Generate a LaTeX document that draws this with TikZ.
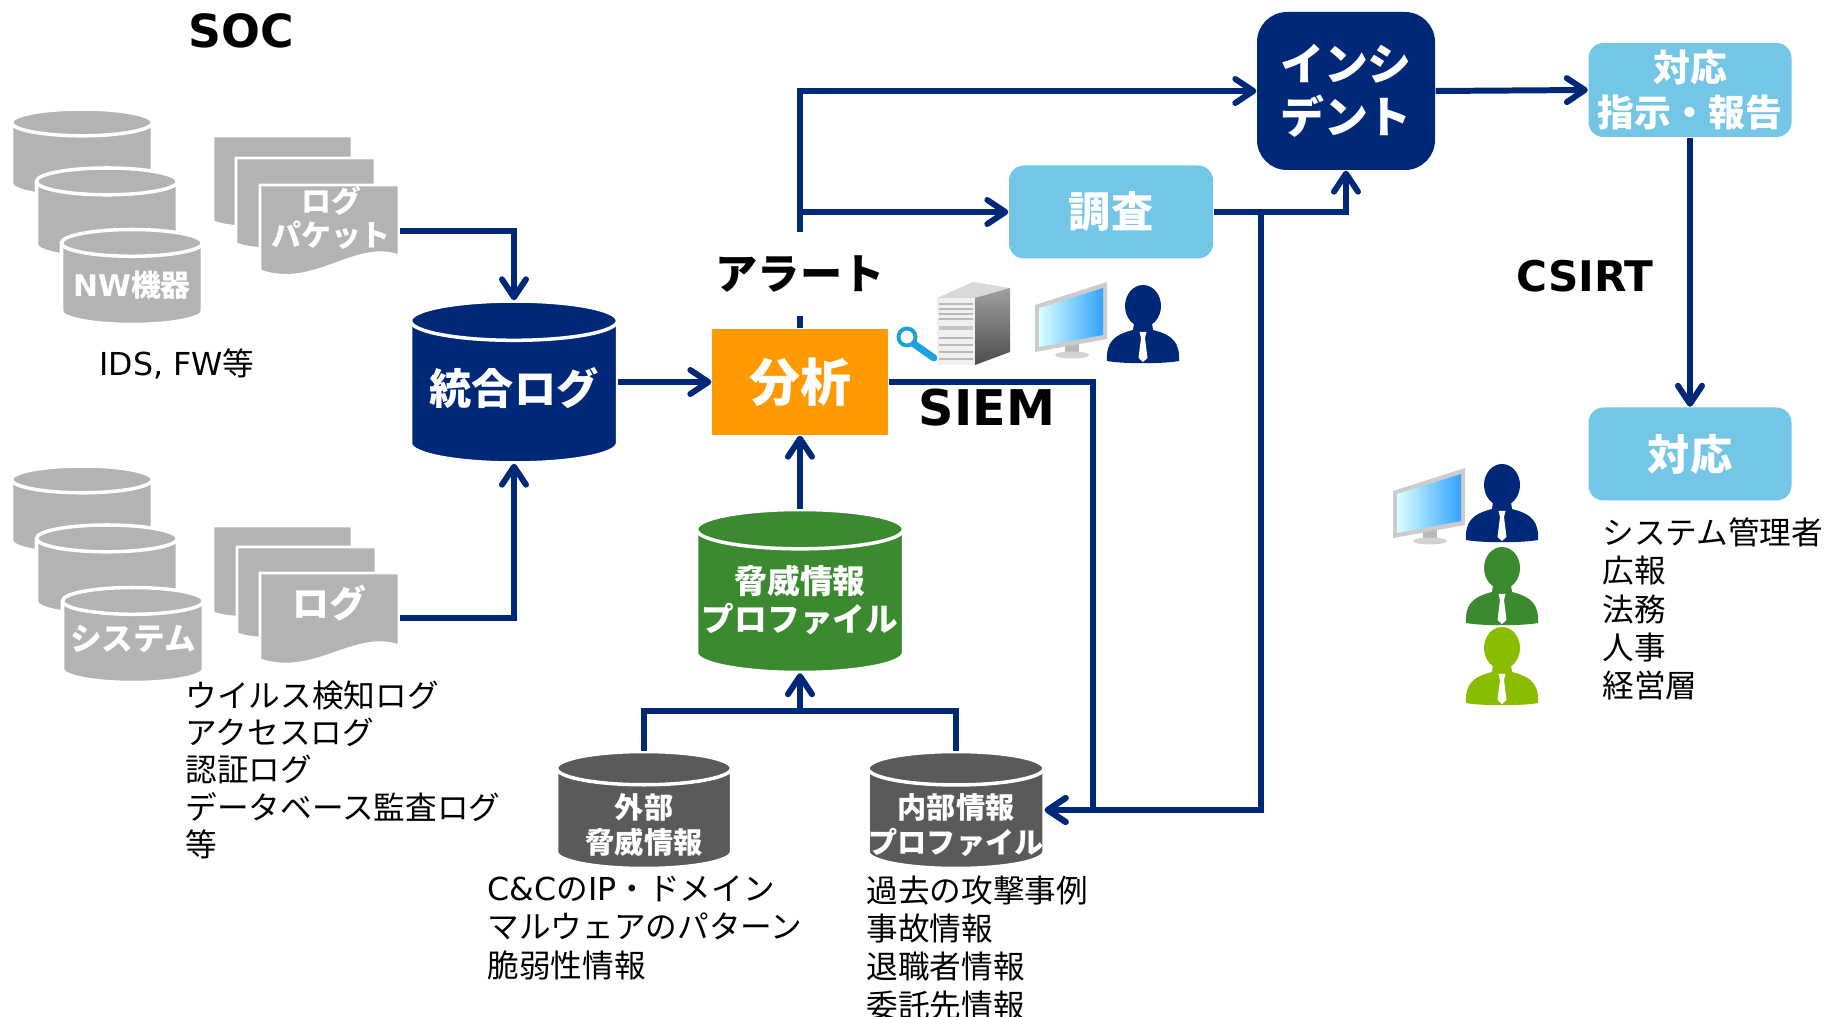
\documentclass[tikz,border=0pt]{standalone}
\usepackage{fontspec}
\setmainfont{Noto Sans CJK JP}
\newfontfamily\verdanalike{DejaVu Sans}
\usetikzlibrary{arrows.meta,positioning}

\definecolor{socnavy}{RGB}{0,40,120}
\definecolor{socorange}{RGB}{255,153,0}
\definecolor{socsky}{RGB}{116,198,230}
\definecolor{socgreen}{RGB}{59,138,48}
\definecolor{socleaf}{RGB}{138,189,0}
\definecolor{socdark}{RGB}{90,90,90}
\definecolor{socgray}{RGB}{179,179,179}
\definecolor{socblue}{RGB}{27,161,226}

% drum: name, x, y, width, height, colour
\newcommand{\drum}[6]{%
  \filldraw[fill=#6, draw=white, line width=1pt]
    (#2-#4/2, #3+#5/2-0.095*#4) -- (#2-#4/2, #3-#5/2+0.095*#4)
    arc[start angle=180, end angle=360, x radius=#4/2, y radius=0.095*#4]
    -- (#2+#4/2, #3+#5/2-0.095*#4)
    arc[start angle=0, end angle=180, x radius=#4/2, y radius=0.095*#4] -- cycle;
  \draw[white, line width=1pt] (#2-#4/2, #3+#5/2-0.095*#4)
    arc[start angle=180, end angle=360, x radius=#4/2, y radius=0.095*#4];
  \node[inner sep=0pt, minimum width=#4cm, minimum height=#5cm] (#1) at (#2,#3) {};
}

\begin{document}
\begin{tikzpicture}[
    flow/.style={draw=socnavy, line width=1.7pt, -{Straight Barb[length=1.8mm,width=2.4mm,round]}},
    bus/.style={draw=socnavy, line width=1.7pt},
    dbtext/.style={text=white, align=center, inner sep=0pt},
    box/.style={text=white, align=center, inner sep=0pt},
    paper/.style={fill=socgray, draw=white, line width=0.8pt},
    note/.style={align=left, anchor=north west, inner sep=0pt},
]
\useasboundingbox (0,0) rectangle (18.27,-10.17);

% headings
\node[font=\verdanalike\bfseries\fontsize{13}{15}\selectfont] (soc) at (2.41,-0.31) {SOC};
\node[font=\verdanalike\bfseries\fontsize{14}{16}\selectfont] (siem) at (9.87,-4.08) {SIEM};
\node[font=\verdanalike\bfseries\fontsize{12}{14}\selectfont] (csirt) at (15.85,-2.76) {CSIRT};

% network devices
\drum{nwA}{0.82}{-1.53}{1.41}{0.88}{socgray}
\drum{nwB}{1.07}{-2.13}{1.41}{0.90}{socgray}
\drum{nwC}{1.32}{-2.77}{1.41}{0.95}{socgray}
\node[dbtext, font=\fontsize{8.5}{10}\selectfont\bfseries] (nwlabel) at (1.32,-2.85) {{\verdanalike NW}機器};

% log / packet sheets
\foreach \dx/\dy in {0/0, 0.23/-0.22, 0.47/-0.49} {
  \begin{scope}[shift={(2.13+\dx,-1.36+\dy)}]
    \filldraw[paper] (0,0) -- (1.39,0) -- (1.39,-0.71) .. controls (0.95,-0.55) and (0.55,-1.05) .. (0,-0.86) -- cycle;
  \end{scope}
}
\node[dbtext, font=\fontsize{8.5}{9.8}\selectfont\bfseries] (pkt) at (3.31,-2.18) {ログ\\パケット};
\coordinate (pktout) at (4.00,-2.31);
\node[font=\fontsize{9}{11}\selectfont] (idsfw) at (1.77,-3.64) {{\verdanalike IDS, FW}等};

% servers
\drum{sysA}{0.82}{-5.10}{1.41}{0.88}{socgray}
\drum{sysB}{1.07}{-5.70}{1.41}{0.90}{socgray}
\drum{sysC}{1.33}{-6.35}{1.41}{0.95}{socgray}
\node[dbtext, font=\fontsize{9}{10}\selectfont\bfseries] (syslabel) at (1.33,-6.39) {システム};

% system log sheets
\foreach \dx/\dy in {0/0, 0.24/-0.21, 0.47/-0.47} {
  \begin{scope}[shift={(2.13+\dx,-5.26+\dy)}]
    \filldraw[paper] (0,0) -- (1.39,0) -- (1.39,-0.73) .. controls (0.95,-0.57) and (0.55,-1.05) .. (0,-0.87) -- cycle;
  \end{scope}
}
\node[dbtext, font=\fontsize{10.5}{12}\selectfont\bfseries] (syslog) at (3.29,-6.03) {ログ};
\coordinate (sysout) at (4.00,-6.18);
\node[note, font=\fontsize{9}{10.6}\selectfont] (syslist) at (1.85,-6.80)
  {ウイルス検知ログ\\アクセスログ\\認証ログ\\データベース監査ログ\\等};

% main flow
\drum{togo}{5.14}{-3.82}{2.07}{1.62}{socnavy}
\node[dbtext, font=\fontsize{12}{14}\selectfont\bfseries] (togolabel) at (5.14,-3.88) {統合ログ};
\node[box, fill=socorange, minimum width=1.76cm, minimum height=1.06cm, font=\fontsize{14.5}{16}\selectfont\bfseries] (bunseki) at (8.00,-3.82) {分析};
\node[box, fill=socsky, rounded corners=0.15cm, minimum width=2.04cm, minimum height=0.93cm, font=\fontsize{12}{14}\selectfont\bfseries] (chosa) at (11.11,-2.12) {調査};
\node[box, fill=socnavy, rounded corners=0.3cm, minimum width=1.78cm, minimum height=1.58cm, font=\fontsize{12.5}{15}\selectfont\bfseries] (incident) at (13.46,-0.91) {インシ\\デント};
\node[box, fill=socsky, rounded corners=0.15cm, minimum width=2.03cm, minimum height=0.94cm, font=\fontsize{10.5}{12.6}\selectfont\bfseries] (shiji) at (16.90,-0.90) {対応\\指示・報告};
\node[box, fill=socsky, rounded corners=0.15cm, minimum width=2.03cm, minimum height=0.93cm, font=\fontsize{12}{14}\selectfont\bfseries] (taiou) at (16.90,-4.54) {対応};

% threat intelligence
\drum{kyoui}{8.00}{-5.91}{2.07}{1.63}{socgreen}
\node[dbtext, font=\fontsize{9.3}{10.8}\selectfont\bfseries] (kyouilabel) at (8.00,-6.00) {脅威情報\\プロファイル};
\drum{gaibu}{6.44}{-8.10}{1.75}{1.17}{socdark}
\node[dbtext, font=\fontsize{8.3}{10}\selectfont\bfseries] (gaibulabel) at (6.44,-8.25) {外部\\脅威情報};
\drum{naibu}{9.56}{-8.10}{1.76}{1.17}{socdark}
\node[dbtext, font=\fontsize{8.3}{10}\selectfont\bfseries] (naibulabel) at (9.56,-8.25) {内部情報\\プロファイル};
\coordinate (bus) at (8.00,-7.11);
\node[note, font=\fontsize{9}{10.9}\selectfont] (gaibulist) at (4.87,-8.75)
  {{\verdanalike C\&C}の{\verdanalike IP}・ドメイン\\マルウェアのパターン\\脆弱性情報};
\node[note, font=\fontsize{9}{10.9}\selectfont] (naibulist) at (8.66,-8.75)
  {過去の攻撃事例\\事故情報\\退職者情報\\委託先情報};

% connectors
\coordinate (split) at (12.61,-2.12);
\coordinate (siemdrop) at (10.93,-3.82);
\draw[flow] (pktout) -| (togo.north);
\draw[flow] (sysout) -| (togo.south);
\draw[flow] (togo.east) -- (bunseki.west);
\draw[flow] (bunseki.north) |- (incident.west);
\draw[flow] (bunseki.north) |- (chosa.west);
\draw[flow] (chosa.east) -| (incident.south);
\draw[flow] (split) |- (naibu.east);
\draw[flow] (bunseki.east) -- (siemdrop) |- (naibu.east);
\draw[flow] (incident.east) -- (shiji.west);
\draw[flow] (shiji.south) -- (taiou.north);
\draw[flow] (kyoui.north) -- (bunseki.south);
\draw[bus] (gaibu.north) |- (bus) -| (naibu.north);
\draw[flow] (bus) -- (kyoui.south);
\node[fill=white, inner xsep=2pt, minimum height=0.84cm, font=\fontsize{12}{14}\selectfont\bfseries] (alert) at (8.00,-2.74) {アラート};

% analyst desk: magnifier, server, monitor
\draw[socblue, line width=1.1pt] (9.07,-3.37) circle [radius=0.085];
\draw[socblue, line width=2pt, line cap=round] (9.14,-3.44) -- (9.34,-3.58);
\fill[gray!30] (9.37,-2.98) -- (9.73,-2.82) -- (10.10,-2.88) -- (9.75,-2.98) -- cycle;
\shade[top color=gray!75, bottom color=gray!60!black] (9.75,-2.98) -- (10.10,-2.88) -- (10.10,-3.52) -- (9.75,-3.65) -- cycle;
\fill[gray!12] (9.37,-2.98) rectangle (9.75,-3.65);
\foreach \sy in {-3.04,-3.09,-3.14,-3.19} {
  \draw[gray!55, line width=0.4pt] (9.39,\sy) -- (9.73,\sy);
}
\fill[gray!45] (9.39,-3.26) rectangle (9.73,-3.30);
\foreach \sy in {-3.38,-3.45,-3.52,-3.59} {
  \draw[gray!55, line width=0.4pt] (9.39,\sy) -- (9.73,\sy);
}

% monitors
\foreach \mx/\my in {10.35/-3.52, 13.93/-5.38} {
  \begin{scope}[shift={(\mx,\my)}]
    \fill[gray!55] (0.30,0.10) rectangle (0.44,-0.02);
    \fill[gray!35] (0.37,-0.03) ellipse [x radius=0.17, y radius=0.035];
    \fill[gray!40] (0,0) -- (0,0.47) -- (0.72,0.70) -- (0.72,0.13) -- cycle;
    \shade[left color=cyan!15, right color=blue!45!cyan!80] (0.04,0.05) -- (0.04,0.44) -- (0.68,0.64) -- (0.68,0.17) -- cycle;
  \end{scope}
}

% staff silhouettes
\foreach \px/\py/\col in {11.43/-3.63/socnavy, 15.02/-5.42/socnavy, 15.02/-6.25/socgreen, 15.02/-7.05/socleaf} {
  \begin{scope}[shift={(\px,\py)}]
    \fill[\col] (-0.36,0.02) .. controls (-0.37,0.2) and (-0.3,0.28) .. (-0.1,0.33) -- (-0.09,0.40) -- (0.09,0.40) -- (0.1,0.33) .. controls (0.3,0.28) and (0.37,0.2) .. (0.36,0.02) .. controls (0.2,-0.01) and (-0.2,-0.01) .. cycle;
    \fill[\col] (0,0.57) ellipse [x radius=0.18, y radius=0.21];
    \fill[white] (-0.035,0.31) -- (0.035,0.31) -- (0.02,0.25) -- (0.045,0.05) -- (0,0.01) -- (-0.045,0.05) -- (-0.02,0.25) -- cycle;
  \end{scope}
}

% response roles
\node[note, font=\fontsize{9}{10.9}\selectfont] (roles) at (16.02,-5.17)
  {システム管理者\\広報\\法務\\人事\\経営層};

\end{tikzpicture}
\end{document}
